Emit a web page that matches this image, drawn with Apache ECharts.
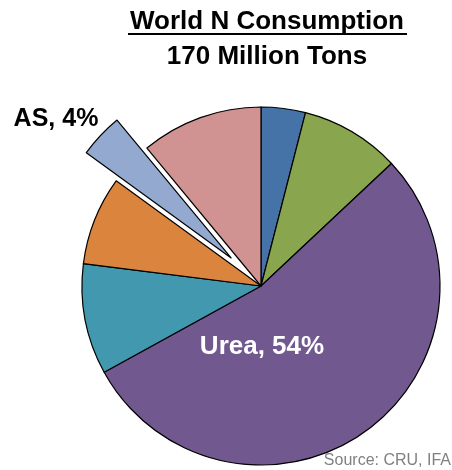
<!DOCTYPE html>
<html>
<head>
<meta charset="utf-8">
<script src="https://cdn.jsdelivr.net/npm/echarts@6/dist/echarts.min.js"></script>
<style>
html,body{margin:0;padding:0;background:#fff;}
#chart{width:452px;height:470px;}
</style>
</head>
<body>
<div id="chart"></div>
<script>
// Data (percent of world N consumption), clockwise from 12 o'clock
var categories = ['Ammonia', 'UAN', 'Urea', 'AN', 'CAN', 'AS', 'Other'];
var values = [4, 9, 54, 10, 8, 4, 11];
var colors = ['#4572A7', '#89A54E', '#71588F', '#4198AF', '#DB843D', '#93A9CF', '#D19392'];
var exploded = 'AS';
var titleText = 'World N Consumption';
var subtitleText = '170 Million Tons';
var sourceText = 'Source: CRU, IFA';

var FONT = '"Liberation Sans", Arial, Helvetica, sans-serif';
var asIdx = categories.indexOf('AS');

var data = categories.map(function (c, i) {
  return {
    name: c,
    value: values[i],
    selected: c === exploded,
    itemStyle: { color: colors[i] },
    label: { show: c === 'Urea' }
  };
});

var chart = echarts.init(document.getElementById('chart'), null, { renderer: 'canvas' });
chart.setOption({
  animation: false,
  backgroundColor: '#ffffff',
  graphic: [
    { type: 'text', x: 267, y: 22, style: { text: titleText, font: 'bold 26px ' + FONT, fill: '#000', align: 'center', verticalAlign: 'middle' } },
    { type: 'line', shape: { x1: 128, y1: 34, x2: 407, y2: 34 }, style: { stroke: '#000', lineWidth: 2 } },
    { type: 'text', x: 267, y: 57, style: { text: subtitleText, font: 'bold 26px ' + FONT, fill: '#000', align: 'center', verticalAlign: 'middle' } },
    { type: 'text', x: 56, y: 119, style: { text: categories[asIdx] + ', ' + values[asIdx] + '%', font: 'bold 25px ' + FONT, fill: '#000', align: 'center', verticalAlign: 'middle' } },
    { type: 'text', x: 451, y: 461, style: { text: sourceText, font: '16px ' + FONT, fill: '#808080', align: 'right', verticalAlign: 'middle' } }
  ],
  series: [{
    type: 'pie',
    center: [261, 286],
    radius: [0, 179],
    startAngle: 90,
    clockwise: true,
    selectedMode: 'single',
    selectedOffset: 41,
    avoidLabelOverlap: false,
    silent: true,
    emphasis: { disabled: true, scale: false },
    itemStyle: { borderColor: '#000', borderWidth: 1.2 },
    label: {
      position: 'inside',
      formatter: '{b}, {c}%',
      fontFamily: FONT,
      fontWeight: 'bold',
      fontSize: 26,
      color: '#ffffff',
      align: 'center',
      verticalAlign: 'middle'
    },
    labelLine: { show: false },
    labelLayout: function (p) {
      if (p.dataIndex === categories.indexOf('Urea')) return { x: 262, y: 347, align: 'center', verticalAlign: 'middle' };
      return {};
    },
    data: data
  }]
});
</script>
</body>
</html>
